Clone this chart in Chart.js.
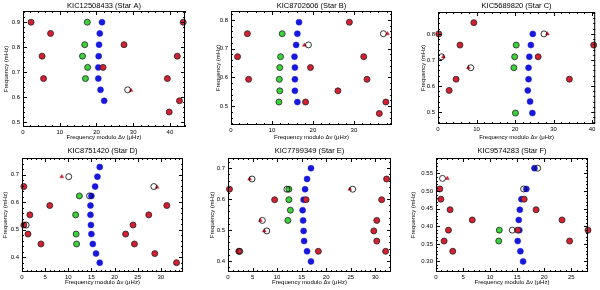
<!DOCTYPE html>
<html>
<head>
<meta charset="utf-8">
<script src="https://cdn.jsdelivr.net/npm/chart.js@4/dist/chart.umd.min.js"></script>
<style>
  body { margin: 0; background: #fff; }
  #wrap { position: relative; width: 600px; height: 290px; }
  .panel { position: absolute; width: 200px; height: 145px; }
</style>
</head>
<body>
<div id="wrap"></div>
<script>
// échelle data, [frequency modulo dnu (uHz), frequency (mHz)]
const starA_red = [[2.2,0.900],[7.5,0.855],[5.2,0.764],[5.6,0.674],[27.5,0.810],[21.8,0.719],[39.3,0.674],[42.0,0.764],[43.6,0.900],[42.6,0.585],[39.8,0.540]];
const starA_green = [[17.5,0.900],[16.8,0.810],[16.2,0.764],[17.6,0.719],[17.0,0.674]];
const starA_blue = [[21.5,0.900],[20.9,0.855],[20.7,0.810],[20.6,0.764],[20.5,0.719],[20.5,0.674],[21.1,0.629],[22.1,0.585]];
const starA_open = [[28.5,0.629]];
const starA_tri = [[29.4,0.627]];

const starB_red = [[28.9,0.792],[4.0,0.752],[1.6,0.672],[32.4,0.672],[19.4,0.634],[4.3,0.593],[33.2,0.593],[26.1,0.553],[18.2,0.514],[37.8,0.514],[36.2,0.474]];
const starB_green = [[12.5,0.752],[12.1,0.672],[11.9,0.634],[11.8,0.593],[11.9,0.553],[11.7,0.514]];
const starB_blue = [[16.6,0.792],[16.2,0.752],[15.9,0.713],[15.5,0.672],[15.6,0.634],[15.6,0.593],[15.6,0.553],[16.2,0.514]];
const starB_open = [[18.9,0.713],[37.2,0.752]];
const starB_tri = [[17.9,0.712],[38.2,0.752]];

const starC_red = [[9.3,0.843],[0.2,0.800],[5.7,0.757],[40.4,0.757],[26.0,0.712],[4.7,0.626],[34.1,0.626],[2.9,0.583]];
const starC_green = [[20.3,0.757],[19.9,0.712],[19.7,0.670],[20.1,0.496]];
const starC_blue = [[24.6,0.800],[24.1,0.757],[23.7,0.712],[23.5,0.670],[23.5,0.626],[23.3,0.583],[23.9,0.540],[24.5,0.496]];
const starC_open = [[27.5,0.800],[0.9,0.712],[8.5,0.670]];
const starC_tri = [[28.4,0.800],[1.4,0.712],[7.9,0.670]];

const starD_red = [[0.4,0.657],[6.0,0.588],[31.3,0.588],[1.7,0.554],[27.4,0.554],[0.4,0.517],[24.0,0.517],[1.3,0.484],[22.4,0.484],[4.1,0.448],[24.3,0.448],[28.7,0.413],[33.4,0.380]];
const starD_green = [[12.4,0.623],[11.6,0.554],[11.7,0.484],[11.8,0.448]];
const starD_blue = [[16.8,0.728],[16.3,0.693],[15.8,0.657],[15.0,0.623],[14.8,0.588],[14.8,0.554],[14.9,0.517],[15.0,0.484],[15.3,0.448],[16.0,0.413],[16.8,0.380]];
const starD_open = [[10.1,0.693],[28.5,0.657],[14.6,0.623],[0.9,0.517]];
const starD_tri = [[8.6,0.693],[29.2,0.655]];

const starE_red = [[32.3,0.665],[0.3,0.632],[9.5,0.598],[31.3,0.598],[30.3,0.531],[29.7,0.497],[30.3,0.464],[2.2,0.431],[18.4,0.431],[32.1,0.431],[15.9,0.598]];
const starE_green = [[12.4,0.632],[12.4,0.598],[12.7,0.564],[12.2,0.531]];
const starE_blue = [[16.9,0.700],[16.1,0.665],[15.7,0.632],[15.4,0.598],[15.2,0.564],[15.3,0.531],[15.4,0.497],[15.5,0.464],[16.1,0.431],[16.9,0.398]];
const starE_open = [[4.9,0.665],[25.4,0.632],[12.0,0.632],[7.0,0.531],[7.9,0.497],[2.4,0.431]];
const starE_tri = [[4.4,0.665],[24.8,0.632],[6.6,0.531],[7.4,0.497]];

const starF_red = [[0.7,0.506],[0.9,0.477],[16.3,0.477],[2.6,0.447],[18.5,0.447],[6.7,0.418],[23.3,0.418],[2.3,0.389],[15.1,0.389],[28.1,0.389],[1.5,0.358],[24.7,0.358],[3.1,0.329]];
const starF_green = [[11.7,0.389],[11.6,0.358]];
const starF_blue = [[18.2,0.565],[16.7,0.506],[15.8,0.477],[15.5,0.447],[15.3,0.418],[15.4,0.389],[15.1,0.358],[15.6,0.329],[16.1,0.300]];
const starF_open = [[18.8,0.565],[1.2,0.536],[16.2,0.506],[14.1,0.389]];
const starF_tri = [[2.1,0.536]];

// tick labels
const ticksX10 = [0, 10, 20, 30, 40];
const ticksX5 = [0, 5, 10, 15, 20, 25, 30];
const ticksYA = [0.5, 0.6, 0.7, 0.8, 0.9];
const ticksYB = [0.5, 0.6, 0.7, 0.8];
const ticksYD = [0.4, 0.5, 0.6, 0.7];
const ticksYF = [0.30, 0.35, 0.40, 0.45, 0.50, 0.55];

const titles = ['KIC12508433 (Star A)', 'KIC8702606 (Star B)', 'KIC5689820 (Star C)',
  'KIC8751420 (Star D)', 'KIC7799349 (Star E)', 'KIC9574283 (Star F)'];

const panels = [
  { red: starA_red, green: starA_green, blue: starA_blue, open: starA_open, tri: starA_tri,
    xMax: 44.1, yMin: 0.48, yMax: 0.945, xTicks: ticksX10, yTicks: ticksYA, dec: 1,
    L: 23, R: 15, T: 11, B: 18, yt: 2.4 },
  { red: starB_red, green: starB_green, blue: starB_blue, open: starB_open, tri: starB_tri,
    xMax: 39.3, yMin: 0.434, yMax: 0.831, xTicks: ticksX10.slice(0, 4), yTicks: ticksYB, dec: 1,
    L: 31, R: 8, T: 11, B: 20, yt: 15 },
  { red: starC_red, green: starC_green, blue: starC_blue, open: starC_open, tri: starC_tri,
    xMax: 40.8, yMin: 0.454, yMax: 0.884, xTicks: ticksX10, yTicks: ticksYB, dec: 1,
    L: 38, R: 2, T: 12, B: 21, yt: 20 },
  { red: starD_red, green: starD_green, blue: starD_blue, open: starD_open, tri: starD_tri,
    xMax: 34.8, yMin: 0.346, yMax: 0.761, xTicks: ticksX5, yTicks: ticksYD, dec: 1,
    L: 22, R: 17, T: 13, B: 18, yt: 1.5 },
  { red: starE_red, green: starE_green, blue: starE_blue, open: starE_open, tri: starE_tri,
    xMax: 33.2, yMin: 0.364, yMax: 0.733, xTicks: ticksX5, yTicks: ticksYD, dec: 1,
    L: 28, R: 9, T: 13, B: 18, yt: 8.5 },
  { red: starF_red, green: starF_green, blue: starF_blue, open: starF_open, tri: starF_tri,
    xMax: 28.1, yMin: 0.27, yMax: 0.594, xTicks: ticksX5.slice(0, 6), yTicks: ticksYF, dec: 2,
    L: 36, R: 12, T: 13, B: 18, yt: 9.5 },
];

const FONT = '"Liberation Sans", Arial, sans-serif';

const toPts = (arr) => arr.map(([x, y]) => ({ x, y }));

// box frame with inward IDL-style ticks + panel title
const framePlugin = {
  id: 'frame',
  afterDraw(chart) {
    const { ctx, chartArea: a, scales } = chart;
    const p = chart.options.plugins.frame;
    ctx.save();
    ctx.strokeStyle = '#000';
    ctx.lineWidth = 1;
    ctx.strokeRect(a.left + 0.5, a.top + 0.5, a.right - a.left - 1, a.bottom - a.top - 1);
    const xs = scales.x, ys = scales.y;
    const xStep = p.xTicks[1] - p.xTicks[0];
    const yStep = p.yTicks[1] - p.yTicks[0];
    ctx.beginPath();
    for (let v = 0; v <= xs.max + 1e-9; v += xStep / 5) {
      const px = Math.round(xs.getPixelForValue(v)) + 0.5;
      const major = Math.abs(v / xStep - Math.round(v / xStep)) < 1e-6;
      const len = major ? 4 : 2;
      ctx.moveTo(px, a.bottom); ctx.lineTo(px, a.bottom - len);
      ctx.moveTo(px, a.top); ctx.lineTo(px, a.top + len);
    }
    const y0 = Math.ceil(ys.min / (yStep / 5)) * (yStep / 5);
    for (let v = y0; v <= ys.max + 1e-9; v += yStep / 5) {
      const py = Math.round(ys.getPixelForValue(v)) + 0.5;
      const major = Math.abs(v / yStep - Math.round(v / yStep)) < 1e-6;
      const len = major ? 4 : 2;
      ctx.moveTo(a.left, py); ctx.lineTo(a.left + len, py);
      ctx.moveTo(a.right, py); ctx.lineTo(a.right - len, py);
    }
    ctx.stroke();
    ctx.fillStyle = '#000';
    ctx.font = '7.5px ' + FONT;
    ctx.textAlign = 'center';
    ctx.textBaseline = 'middle';
    ctx.fillText(p.title, (a.left + a.right) / 2, 6);
    ctx.restore();
  }
};

const makePanel = (p, i) => {
  const div = document.createElement('div');
  div.className = 'panel';
  div.style.left = (i % 3) * 200 + 'px';
  div.style.top = Math.floor(i / 3) * 145 + 'px';
  const canvas = document.createElement('canvas');
  canvas.width = 200;
  canvas.height = 145;
  div.appendChild(canvas);
  document.getElementById('wrap').appendChild(div);

  const tickFont = { size: 6, family: FONT };
  new Chart(canvas, {
    type: 'scatter',
    data: {
      datasets: [
        { data: toPts(p.open), pointStyle: 'circle', pointRadius: 3, backgroundColor: 'rgba(255,255,255,0)', borderColor: '#000', borderWidth: 0.8 },
        { data: toPts(p.red), pointStyle: 'circle', pointRadius: 3, backgroundColor: '#d42030', borderColor: '#222', borderWidth: 0.8 },
        { data: toPts(p.green), pointStyle: 'circle', pointRadius: 3, backgroundColor: '#3cd23c', borderColor: '#222', borderWidth: 0.8 },
        { data: toPts(p.blue), pointStyle: 'circle', pointRadius: 3, backgroundColor: '#1818dc', borderColor: '#1818dc', borderWidth: 0.5 },
        { data: toPts(p.tri), pointStyle: 'triangle', pointRadius: 2.2, backgroundColor: '#d42030', borderColor: '#d42030', borderWidth: 0.5 },
      ]
    },
    options: {
      responsive: false,
      animation: false,
      clip: false,
      layout: { padding: { top: p.T, right: p.R, left: 0, bottom: 0 } },
      plugins: {
        legend: { display: false },
        tooltip: { enabled: false },
        frame: { title: titles[i], xTicks: p.xTicks, yTicks: p.yTicks },
      },
      scales: {
        x: {
          type: 'linear', min: 0, max: p.xMax,
          afterBuildTicks: (s) => { s.ticks = p.xTicks.map((v) => ({ value: v })); },
          afterFit: (s) => { s.height = p.B; s.paddingLeft = 0; s.paddingRight = 0; },
          grid: { display: false, drawTicks: false },
          border: { display: false },
          ticks: { font: tickFont, color: '#000', padding: 2, maxRotation: 0, autoSkip: false },
          title: { display: true, text: 'Frequency modulo Δν (μHz)', font: tickFont, color: '#000', padding: { top: 0, bottom: 4 } }
        },
        y: {
          type: 'linear', min: p.yMin, max: p.yMax,
          afterBuildTicks: (s) => { s.ticks = p.yTicks.map((v) => ({ value: v })); },
          afterFit: (s) => { s.width = p.L; s.paddingTop = 0; s.paddingBottom = 0; },
          grid: { display: false, drawTicks: false },
          border: { display: false },
          ticks: { font: tickFont, color: '#000', padding: 3, autoSkip: false, callback: (v) => Number(v).toFixed(p.dec) },
          title: { display: true, text: 'Frequency (mHz)', font: tickFont, color: '#000', padding: { top: p.yt, bottom: 0 } }
        }
      }
    },
    plugins: [framePlugin]
  });
};

panels.forEach(makePanel);
</script>
</body>
</html>
